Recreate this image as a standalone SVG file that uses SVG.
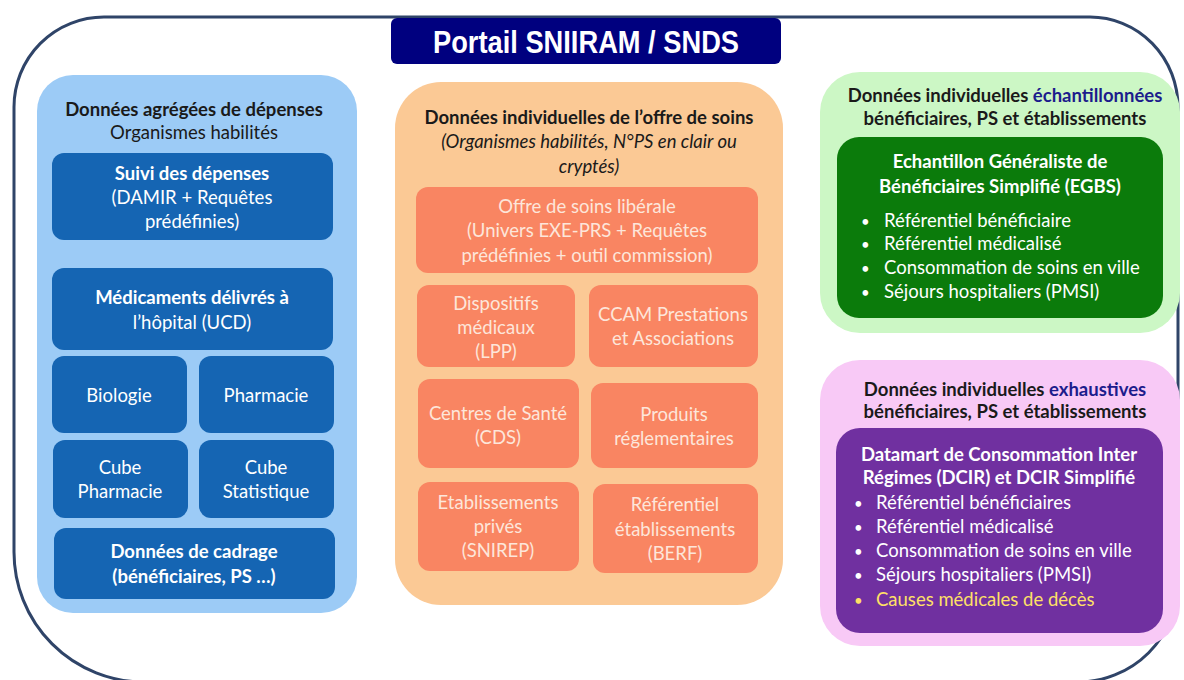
<svg xmlns="http://www.w3.org/2000/svg" width="1184" height="680" viewBox="0 0 1184 680">
<style>
text{font-family:Lato,"Open Sans","Liberation Sans",sans-serif;font-size:18.5px}
.c{text-anchor:middle}
.b{font-weight:bold}
.i{font-style:italic}
.w{fill:#ffffff}
.k{fill:#1a1a1a}
.s{fill:#fde6da}
.nv{fill:#1c1c8c}
.blue{fill:#1565b3}
.sal{fill:#f98562}
.bl{font-size:15px}
</style>
<rect width="1184" height="680" fill="#ffffff"/>
<g id="outer">
<path d="M104,17 H1090 A88,90 0 0 1 1178,107 V582 A100,100 0 0 1 1078,682 H144 A130,130 0 0 1 14,552 V107 A90,90 0 0 1 104,17 Z" fill="none" stroke="#2f4468" stroke-width="3"/>
</g>
<g id="title">
<rect x="391" y="18" width="390" height="46" rx="6" fill="#00007f"/>
<text x="586" y="53" class="c b w" style="font-family:'Liberation Sans Narrow','Liberation Sans',sans-serif;font-size:32px" textLength="306" lengthAdjust="spacingAndGlyphs">Portail SNIIRAM / SNDS</text>
</g>
<g id="panel-agregees">
<rect x="37" y="75" width="320" height="538" rx="36" fill="#9ccbf6"/>
<text x="194" y="116" class="c b k">Données agrégées de dépenses</text>
<text x="194" y="139" class="c k" fill="#333">Organismes habilités</text>
</g>
<g id="suivi">
<rect x="52" y="153" width="281" height="87" rx="12" class="blue"/>
<text x="192" y="180" class="c b w">Suivi des dépenses</text>
<text x="192" y="204" class="c w">(DAMIR + Requêtes</text>
<text x="192" y="228" class="c w">prédéfinies)</text>
</g>
<g id="medicaments">
<rect x="52" y="268" width="281" height="82" rx="12" class="blue"/>
<text x="192" y="304" class="c b w">Médicaments délivrés à</text>
<text x="192" y="329" class="c w">l’hôpital (UCD)</text>
</g>
<g id="biologie">
<rect x="52" y="356" width="135" height="77" rx="12" class="blue"/>
<text x="119" y="402" class="c w">Biologie</text>
</g>
<g id="pharmacie">
<rect x="199" y="356" width="135" height="77" rx="12" class="blue"/>
<text x="266" y="402" class="c w">Pharmacie</text>
</g>
<g id="cube-pharmacie">
<rect x="53" y="440" width="135" height="78" rx="12" class="blue"/>
<text x="120" y="474" class="c w">Cube</text>
<text x="120" y="498" class="c w">Pharmacie</text>
</g>
<g id="cube-statistique">
<rect x="199" y="440" width="135" height="78" rx="12" class="blue"/>
<text x="266" y="474" class="c w">Cube</text>
<text x="266" y="498" class="c w">Statistique</text>
</g>
<g id="cadrage">
<rect x="54" y="528" width="281" height="71" rx="12" class="blue"/>
<text x="194" y="558" class="c b w">Données de cadrage</text>
<text x="194" y="583" class="c b w">(bénéficiaires, PS …)</text>
</g>
<g id="panel-offre">
<rect x="395" y="82" width="388" height="523" rx="46" fill="#fbc995"/>
<text x="589" y="124" class="c b k">Données individuelles de l’offre de soins</text>
<text x="589" y="148" class="c i k" fill="#333">(Organismes habilités, N°PS en clair ou</text>
<text x="589" y="173" class="c i k" fill="#333">cryptés)</text>
</g>
<g id="offre-liberale">
<rect x="416" y="187" width="342" height="86" rx="12" class="sal"/>
<text x="587" y="213" class="c s">Offre de soins libérale</text>
<text x="587" y="237" class="c s">(Univers EXE-PRS + Requêtes</text>
<text x="587" y="262" class="c s">prédéfinies + outil commission)</text>
</g>
<g id="dispositifs">
<rect x="417" y="285" width="158" height="82" rx="12" class="sal"/>
<text x="496" y="310" class="c s">Dispositifs</text>
<text x="496" y="334" class="c s">médicaux</text>
<text x="496" y="358" class="c s">(LPP)</text>
</g>
<g id="ccam">
<rect x="589" y="285" width="169" height="82" rx="12" class="sal"/>
<text x="673" y="321" class="c s">CCAM Prestations</text>
<text x="673" y="345" class="c s">et Associations</text>
</g>
<g id="centres">
<rect x="418" y="379" width="161" height="89" rx="12" class="sal"/>
<text x="498" y="420" class="c s">Centres de Santé</text>
<text x="498" y="444" class="c s">(CDS)</text>
</g>
<g id="produits">
<rect x="591" y="383" width="167" height="85" rx="12" class="sal"/>
<text x="674" y="421" class="c s">Produits</text>
<text x="674" y="445" class="c s">réglementaires</text>
</g>
<g id="etablissements">
<rect x="418" y="482" width="161" height="89" rx="12" class="sal"/>
<text x="498" y="509" class="c s">Etablissements</text>
<text x="498" y="533" class="c s">privés</text>
<text x="498" y="557" class="c s">(SNIREP)</text>
</g>
<g id="referentiel">
<rect x="593" y="484" width="165" height="89" rx="12" class="sal"/>
<text x="675" y="511" class="c s">Référentiel</text>
<text x="675" y="536" class="c s">établissements</text>
<text x="675" y="560" class="c s">(BERF)</text>
</g>
<g id="panel-echantillon">
<rect x="820" y="72" width="360" height="261" rx="40" fill="#ccf7c5"/>
<text x="1005" y="102" class="c b k">Données individuelles <tspan class="nv">échantillonnées</tspan></text>
<text x="1005" y="125" class="c b k">bénéficiaires, PS et établissements</text>
</g>
<g id="egbs">
<rect x="837" y="137" width="326" height="181" rx="22" fill="#0b7b0b"/>
<text x="1000" y="168" class="c b w">Echantillon Généraliste de</text>
<text x="1000" y="193" class="c b w">Bénéficiaires Simplifié (EGBS)</text>
<text x="861" y="227" class="w bl">•</text><text x="884" y="227" class="w">Référentiel bénéficiaire</text>
<text x="861" y="250" class="w bl">•</text><text x="884" y="250" class="w">Référentiel médicalisé</text>
<text x="861" y="274" class="w bl">•</text><text x="884" y="274" class="w">Consommation de soins en ville</text>
<text x="861" y="298" class="w bl">•</text><text x="884" y="298" class="w">Séjours hospitaliers (PMSI)</text>
</g>
<g id="panel-exhaustives">
<rect x="820" y="360" width="360" height="286" rx="40" fill="#f8c9f6"/>
<text x="1005" y="396" class="c b k">Données individuelles <tspan class="nv">exhaustives</tspan></text>
<text x="1005" y="418" class="c b k">bénéficiaires, PS et établissements</text>
</g>
<g id="dcir">
<rect x="836" y="428" width="327" height="205" rx="24" fill="#7030a0"/>
<text x="999" y="461" class="c b w">Datamart de Consommation Inter</text>
<text x="999" y="484" class="c b w">Régimes (DCIR) et DCIR Simplifié</text>
<text x="854" y="509" class="w bl">•</text><text x="876" y="509" class="w">Référentiel bénéficiaires</text>
<text x="854" y="533" class="w bl">•</text><text x="876" y="533" class="w">Référentiel médicalisé</text>
<text x="854" y="557" class="w bl">•</text><text x="876" y="557" class="w">Consommation de soins en ville</text>
<text x="854" y="581" class="w bl">•</text><text x="876" y="581" class="w">Séjours hospitaliers (PMSI)</text>
<text x="854" y="606" class="bl" fill="#ffe066">•</text><text x="876" y="606" fill="#ffe066">Causes médicales de décès</text>
</g>
<g id="connectors"></g>
</svg>
